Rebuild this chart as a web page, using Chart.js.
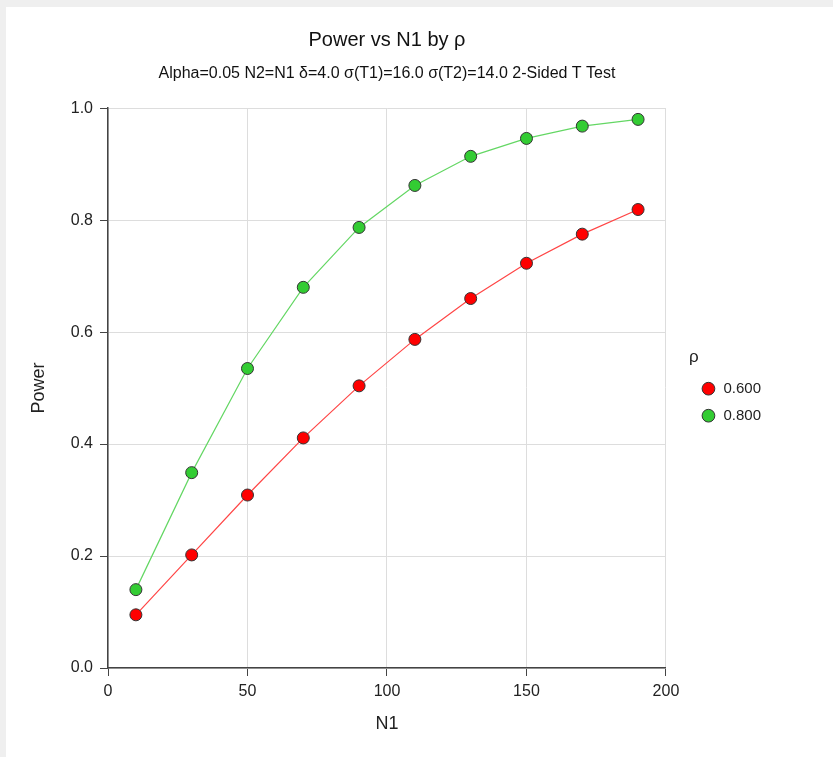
<!DOCTYPE html>
<html>
<head>
<meta charset="utf-8">
<script src="https://cdn.jsdelivr.net/npm/chart.js@4/dist/chart.umd.min.js"></script>
<style>
  html, body { margin: 0; padding: 0; background: #efefef; }
  #wrap { position: absolute; left: 6px; top: 7px; width: 827px; height: 750px; background: #ffffff; }
</style>
</head>
<body>
<div id="wrap"><canvas id="myChart" width="827" height="750"></canvas></div>
<script>
// data
const n1Values = [10, 30, 50, 70, 90, 110, 130, 150, 170, 190];
const rhoLabels = ["0.600", "0.800"];
const powerRho060 = [0.095, 0.202, 0.309, 0.411, 0.504, 0.587, 0.660, 0.723, 0.775, 0.819];
const powerRho080 = [0.140, 0.349, 0.535, 0.680, 0.787, 0.862, 0.914, 0.946, 0.968, 0.980];
const xTicks = [0, 50, 100, 150, 200];
const yTicks = [0.0, 0.2, 0.4, 0.6, 0.8, 1.0];

const FONT = "'Liberation Sans', Arial, Helvetica, sans-serif";
Chart.defaults.font.family = FONT;
Chart.defaults.color = '#222';

function toPoints(ys) {
  return n1Values.map((x, i) => ({ x: x, y: ys[i] }));
}

// push the legend a bit away from the plot
const legendShift = {
  id: 'legendShift',
  afterLayout(chart) {
    const dx = 23, dy = 10;
    chart.legend.left += dx;
    chart.legend.right += dx;
    chart.legend.top += dy;
    chart.legend.bottom += dy;
  }
};

var ctx = document.getElementById("myChart").getContext('2d');

var myChart = new Chart(ctx, {
  type: 'line',
  data: {
    datasets: [{
      label: rhoLabels[0],
      data: toPoints(powerRho060),
      borderColor: 'rgba(255, 70, 70, 1)',
      backgroundColor: '#ff0000',
      pointBackgroundColor: '#ff0000',
      pointBorderColor: '#333333',
      borderWidth: 1.2,
      pointBorderWidth: 1,
      pointRadius: 6,
      tension: 0
    }, {
      label: rhoLabels[1],
      data: toPoints(powerRho080),
      borderColor: 'rgba(100, 215, 100, 1)',
      backgroundColor: '#33cc33',
      pointBackgroundColor: '#33cc33',
      pointBorderColor: '#333333',
      borderWidth: 1.2,
      pointBorderWidth: 1,
      pointRadius: 6,
      tension: 0
    }]
  },
  options: {
    responsive: false,
    animation: false,
    layout: { padding: { left: 0, right: 85, top: 0, bottom: 0 } },
    plugins: {
      title: {
        display: true,
        fullSize: false,
        text: 'Power vs N1 by ρ',
        color: '#111',
        font: { size: 20, weight: 'normal' },
        padding: { top: 21, bottom: 0 }
      },
      subtitle: {
        display: true,
        fullSize: false,
        text: 'Alpha=0.05 N2=N1 δ=4.0 σ(T1)=16.0 σ(T2)=14.0 2-Sided T Test',
        color: '#111',
        font: { size: 16, weight: 'normal' },
        padding: { top: 12, bottom: 25 }
      },
      legend: {
        position: 'right',
        title: {
          display: true,
          text: 'ρ',
          position: 'start',
          color: '#222',
          font: { size: 17 },
          padding: { top: 0, bottom: 0, left: 0 }
        },
        labels: {
          usePointStyle: true,
          pointStyle: 'circle',
          boxWidth: 15,
          boxHeight: 9,
          padding: 12,
          color: '#222',
          font: { size: 15 }
        }
      },
      tooltip: { enabled: false }
    },
    scales: {
      x: {
        type: 'linear',
        min: xTicks[0],
        max: xTicks[xTicks.length - 1],
        afterBuildTicks: (scale) => { scale.ticks = xTicks.map(v => ({ value: v })); },
        afterFit: (scale) => { scale.height = 89; },
        ticks: { padding: 6, color: '#222', font: { size: 16 } },
        grid: { color: '#dddddd', tickColor: '#444', tickLength: 8 },
        border: { color: '#444', width: 1.5 },
        title: { display: true, text: 'N1', color: '#222', font: { size: 18 }, padding: { top: 0, bottom: 22 } }
      },
      y: {
        min: yTicks[0],
        max: yTicks[yTicks.length - 1],
        afterBuildTicks: (scale) => { scale.ticks = yTicks.map(v => ({ value: v })); },
        afterFit: (scale) => { scale.width = 102; },
        ticks: { padding: 7, color: '#222', font: { size: 16 }, callback: (v) => Number(v).toFixed(1) },
        grid: { color: '#dddddd', tickColor: '#444', tickLength: 8 },
        border: { color: '#444', width: 1.5 },
        title: { display: true, text: 'Power', color: '#222', font: { size: 18 }, padding: { top: 22, bottom: 0 } }
      }
    }
  },
  plugins: [legendShift]
});
</script>
</body>
</html>
